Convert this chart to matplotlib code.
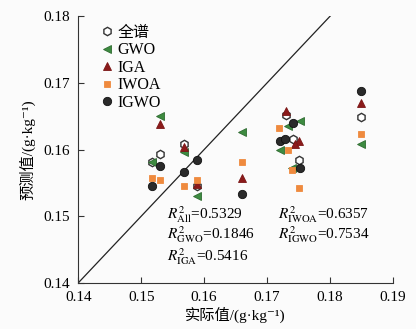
import matplotlib
matplotlib.use('Agg')
import matplotlib.pyplot as plt

plt.rcParams['font.family'] = ['Liberation Serif', 'Noto Sans CJK SC', 'DejaVu Serif']
plt.rcParams['mathtext.fontset'] = 'stix'

full_x = [0.1530, 0.1517, 0.1568, 0.1588, 0.1730, 0.1741, 0.1751, 0.1849]
full_y = [0.1594, 0.1582, 0.1609, 0.1546, 0.1652, 0.1616, 0.1584, 0.1649]

gwo_x = [0.1530, 0.1517, 0.1568, 0.1588, 0.1660, 0.1752, 0.1733, 0.1720, 0.1739, 0.1849]
gwo_y = [0.1651, 0.1581, 0.1596, 0.1531, 0.1627, 0.1643, 0.1636, 0.1599, 0.1572, 0.1609]

iga_x = [0.1530, 0.1568, 0.1588, 0.1660, 0.1730, 0.1751, 0.1744, 0.1849]
iga_y = [0.1639, 0.1604, 0.1548, 0.1557, 0.1658, 0.1613, 0.1609, 0.1670]

iwoa_x = [0.1517, 0.1530, 0.1568, 0.1588, 0.1660, 0.1719, 0.1733, 0.1739, 0.1751, 0.1849]
iwoa_y = [0.1558, 0.1554, 0.1546, 0.1555, 0.1582, 0.1633, 0.1599, 0.1570, 0.1542, 0.1624]

igwo_x = [0.1530, 0.1517, 0.1568, 0.1588, 0.1660, 0.1741, 0.1720, 0.1728, 0.1752, 0.1849]
igwo_y = [0.1576, 0.1545, 0.1567, 0.1584, 0.1534, 0.1640, 0.1613, 0.1616, 0.1572, 0.1687]

xticks = [0.14, 0.15, 0.16, 0.17, 0.18, 0.19]
yticks = [0.14, 0.15, 0.16, 0.17, 0.18]

fig = plt.figure(figsize=(4.16, 3.29), dpi=100, facecolor='#fbfbfb')
ax = fig.add_axes([0.188, 0.140, 0.757, 0.811])
ax.set_facecolor('#fbfbfb')

ax.plot([0.14, 0.19], [0.14, 0.19], color='#222222', lw=0.9, zorder=1)

ax.plot(full_x, full_y, ls='none', marker='h', ms=6, mfc='white', mec='#333333', mew=1.0, label='全谱', zorder=3)
ax.plot(gwo_x, gwo_y, ls='none', marker='<', ms=6, mfc='#3d8b40', mec='#2e6b30', mew=0.6, label='GWO', zorder=3)
ax.plot(iga_x, iga_y, ls='none', marker='^', ms=6, mfc='#8b1a1a', mec='#7a1515', mew=0.6, label='IGA', zorder=3)
ax.plot(iwoa_x, iwoa_y, ls='none', marker='s', ms=5, mfc='#ef8a3e', mec='#ef8a3e', mew=0.6, label='IWOA', zorder=3)
ax.plot(igwo_x, igwo_y, ls='none', marker='o', ms=6, mfc='#2a2a2a', mec='#111111', mew=0.6, label='IGWO', zorder=4)

ax.set_xlim(0.14, 0.19)
ax.set_ylim(0.14, 0.18)
ax.set_xticks(xticks)
ax.set_yticks(yticks)
ax.set_xticklabels(['%.2f' % v for v in xticks], fontsize=11)
ax.set_yticklabels(['%.2f' % v for v in yticks], fontsize=11)
ax.tick_params(direction='in', length=4, width=0.8, color='#333333', pad=6)
ax.spines['top'].set_visible(False)
ax.spines['right'].set_visible(False)
for s in ['left', 'bottom']:
    ax.spines[s].set_linewidth(0.8)
    ax.spines[s].set_color('#333333')

ax.set_xlabel('实际值/(g·kg⁻¹)', fontsize=11, labelpad=2)
ax.set_ylabel('预测值/(g·kg⁻¹)', fontsize=11, labelpad=6)

leg = ax.legend(loc='upper left', frameon=False, fontsize=11.5, handletextpad=0.15,
                labelspacing=0.1, borderaxespad=0.3, handlelength=1.0,
                bbox_to_anchor=(0.03, 1.01))

ax.text(0.282, 0.255, r'$R^2_{\rm All}$=0.5329', transform=ax.transAxes, fontsize=11, va='center')
ax.text(0.282, 0.180, r'$R^2_{\rm GWO}$=0.1846', transform=ax.transAxes, fontsize=11, va='center')
ax.text(0.282, 0.100, r'$R^2_{\rm IGA}$=0.5416', transform=ax.transAxes, fontsize=11, va='center')
ax.text(0.635, 0.255, r'$R^2_{\rm IWOA}$=0.6357', transform=ax.transAxes, fontsize=11, va='center')
ax.text(0.635, 0.180, r'$R^2_{\rm IGWO}$=0.7534', transform=ax.transAxes, fontsize=11, va='center')

fig.savefig('out.png', dpi=100, facecolor=fig.get_facecolor())
